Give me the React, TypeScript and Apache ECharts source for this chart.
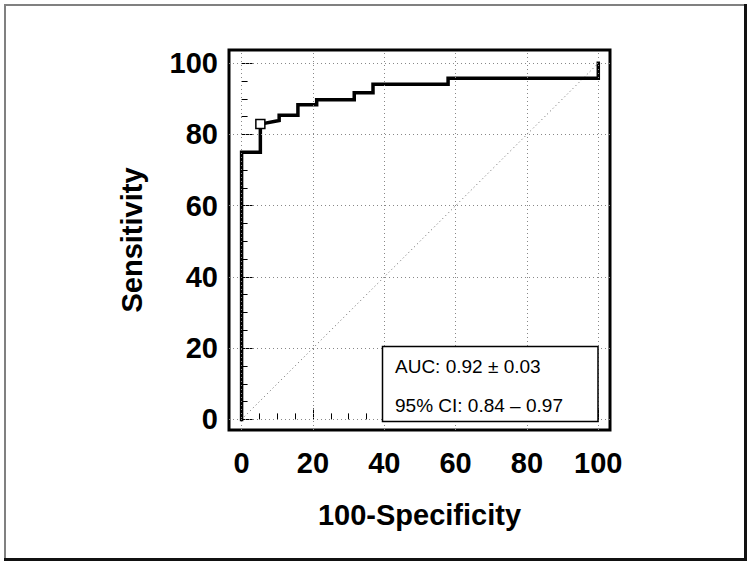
import React, { useEffect, useRef } from "react";
import * as echarts from "echarts";

// ROC curve (100-Specificity, Sensitivity)
const rocX = [0, 0, 5.26, 5.26, 10.53, 10.53, 15.79, 15.79, 21.05, 21.05, 31.58, 31.58, 36.84, 36.84, 57.89, 57.89, 100, 100];
const rocY = [0, 75, 75, 82.9, 83.9, 85.4, 85.4, 88.3, 88.3, 89.7, 89.7, 91.7, 91.7, 94.1, 94.1, 95.8, 95.8, 100];
const cutoffPoint = [5.26, 82.9];
const diagonalX = [0, 100];
const diagonalY = [0, 100];
const majorTicks = [0, 20, 40, 60, 80, 100];
const minorTicks = [0, 5, 10, 15, 20, 25, 30, 35, 40, 45, 50, 55, 60, 65, 70, 75, 80, 85, 90, 95, 100];
const xTitle = "100-Specificity";
const yTitle = "Sensitivity";
const aucLines = ["AUC: 0.92 \u00b1 0.03", "95% CI: 0.84 \u2013 0.97"];

const FONT = "'Liberation Sans', Arial, sans-serif";

export default function App() {
  const ref = useRef<HTMLDivElement>(null);

  useEffect(() => {
    if (!ref.current) return;
    const chart = echarts.init(ref.current, undefined, { renderer: "svg" });

    const xMin = -3.53, xMax = 103.28, yMin = -2.98, yMax = 103.7;
    const gridRect = { left: 229, top: 50, width: 381, height: 380 };
    const labelStyle = { fontSize: 29, fontWeight: "bold" as const, color: "#000", fontFamily: FONT };

    const option: any = {
      animation: false,
      backgroundColor: "#fff",
      grid: [
        { ...gridRect, show: true, borderColor: "#000", borderWidth: 3, backgroundColor: "transparent", z: 5 },
        { ...gridRect, show: false },
      ],
      xAxis: [
        {
          gridIndex: 0,
          type: "value",
          min: xMin,
          max: xMax,
          axisLine: { show: false },
          splitLine: { show: false },
          axisTick: { show: true, inside: true, length: 6, customValues: minorTicks, lineStyle: { color: "#000", width: 1 } },
          axisLabel: { customValues: majorTicks, margin: 18, ...labelStyle },
          name: xTitle,
          nameLocation: "middle",
          nameGap: 70,
          nameTextStyle: labelStyle,
        },
        {
          gridIndex: 1,
          type: "value",
          min: xMin,
          max: xMax,
          axisLine: { show: false },
          splitLine: { show: false },
          axisLabel: { show: false },
          axisTick: { show: true, inside: true, length: 11, customValues: majorTicks, lineStyle: { color: "#000", width: 1 } },
        },
      ],
      yAxis: [
        {
          gridIndex: 0,
          type: "value",
          min: yMin,
          max: yMax,
          axisLine: { show: false },
          splitLine: { show: false },
          axisTick: { show: true, inside: true, length: 6, customValues: minorTicks, lineStyle: { color: "#000", width: 1 } },
          axisLabel: { customValues: majorTicks, margin: 11, ...labelStyle },
          name: yTitle,
          nameLocation: "middle",
          nameRotate: 90,
          nameGap: 83,
          nameTextStyle: labelStyle,
        },
        {
          gridIndex: 1,
          type: "value",
          min: yMin,
          max: yMax,
          axisLine: { show: false },
          splitLine: { show: false },
          axisLabel: { show: false },
          axisTick: { show: true, inside: true, length: 11, customValues: majorTicks, lineStyle: { color: "#000", width: 1 } },
        },
      ],
      series: [
        {
          type: "line",
          xAxisIndex: 0,
          yAxisIndex: 0,
          data: diagonalX.map((x, i) => [x, diagonalY[i]]),
          symbol: "none",
          silent: true,
          z: 1,
          lineStyle: { color: "#666", width: 1, type: [1, 3] },
          markLine: {
            silent: true,
            symbol: ["none", "none"],
            label: { show: false },
            lineStyle: { color: "#888", width: 1, type: [1, 3] },
            data: [
              ...majorTicks.map((v) => ({ xAxis: v })),
              ...majorTicks.map((v) => ({ yAxis: v })),
            ],
          },
        },
        {
          type: "line",
          xAxisIndex: 0,
          yAxisIndex: 0,
          data: rocX.map((x, i) => [x, rocY[i]]),
          symbol: "none",
          z: 3,
          lineStyle: { color: "#000", width: 3.5, cap: "square", join: "miter" },
        },
        {
          type: "scatter",
          xAxisIndex: 0,
          yAxisIndex: 0,
          data: [cutoffPoint],
          symbol: "rect",
          symbolSize: 9,
          z: 4,
          itemStyle: { color: "#fff", borderColor: "#000", borderWidth: 1.5, opacity: 1 },
        },
      ],
      graphic: [
        {
          type: "rect",
          z: 100,
          shape: { x: 5, y: 5, width: 740.5, height: 554 },
          style: { fill: "none", stroke: "#808080", lineWidth: 2 },
        },
        {
          type: "line",
          z: 101,
          shape: { x1: 745.5, y1: 4, x2: 745.5, y2: 561 },
          style: { stroke: "#111", lineWidth: 3 },
        },
        {
          type: "line",
          z: 101,
          shape: { x1: 4, y1: 559.5, x2: 747, y2: 559.5 },
          style: { stroke: "#111", lineWidth: 3 },
        },
        {
          type: "rect",
          z: 100,
          shape: { x: 382.5, y: 346.5, width: 215.5, height: 75 },
          style: { fill: "#fff", stroke: "#000", lineWidth: 1.5 },
        },
        {
          type: "text",
          z: 101,
          x: 395,
          y: 366,
          style: { text: aucLines[0], fontSize: 19, fontFamily: FONT, fill: "#000", verticalAlign: "middle", align: "left" },
        },
        {
          type: "text",
          z: 101,
          x: 395,
          y: 405,
          style: { text: aucLines[1], fontSize: 19, fontFamily: FONT, fill: "#000", verticalAlign: "middle", align: "left" },
        },
      ],
    };

    chart.setOption(option);
    return () => chart.dispose();
  }, []);

  return (
    <div
      ref={ref}
      style={{ position: "fixed", left: 0, top: 0, width: 752, height: 565, background: "#fff" }}
    />
  );
}
